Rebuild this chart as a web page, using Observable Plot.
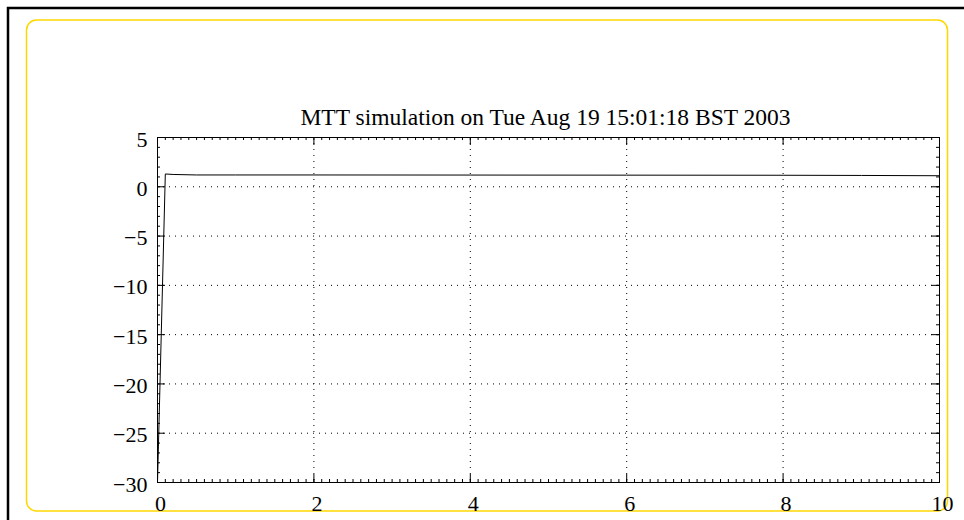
<!DOCTYPE html>
<html><head><meta charset="utf-8">
<script src="https://cdn.jsdelivr.net/npm/d3@7"></script>
<script src="https://cdn.jsdelivr.net/npm/@observablehq/plot@0.6"></script>
<style>body{margin:0;background:#fff} #chart svg{display:block}</style>
</head><body><div id="chart"></div>
<script>
const chartTitle = "MTT simulation on Tue Aug 19 15:01:18 BST 2003";
const timeValues   = [0,   0.1, 0.2,  0.5, 1,   2,   4,    6,    8,    9,    10];
const outputValues = [-30, 1.3, 1.25, 1.2, 1.2, 1.2, 1.19, 1.18, 1.17, 1.15, 1.12];
const xTicks = [0, 2, 4, 6, 8, 10];
const yTicks = [5, 0, -5, -10, -15, -20, -25, -30];
const xMinorStep = 0.1;
const yMinorStep = 1;

const data = timeValues.map((t, i) => ({t, v: outputValues[i]}));
const xMinor = d3.range(0, 100 + 1).map(i => i * xMinorStep);
const yMinor = d3.range(0, 35 + 1).map(i => -30 + i * yMinorStep);

const W = 964, H = 520;
const mL = 157, mR = 25, mT = 137, mB = 38;
const iW = W - mL - mR, iH = H - mT - mB;
const major = 8, minor = 3;

function decor() {
  return () => {
    const g = d3.create("svg:g");
    g.append("rect").attr("x", 26.5).attr("y", 20).attr("width", 921).attr("height", 491)
      .attr("rx", 10).attr("fill", "none").attr("stroke", "#FFD700").attr("stroke-width", 1.5);
    g.append("path").attr("d", "M8,520V8H964").attr("fill", "none")
      .attr("stroke", "#000").attr("stroke-width", 2.5);
    return g.node();
  };
}

const tickStyle = {stroke: "black", strokeWidth: 1};
const chart = Plot.plot({
  width: W, height: H,
  marginLeft: mL, marginRight: mR, marginTop: mT, marginBottom: mB,
  style: {fontFamily: "'Liberation Serif', 'Times New Roman', serif", fontSize: "22px", color: "black", background: "white"},
  x: {domain: [0, 10]},
  y: {domain: [-30, 5]},
  marks: [
    decor(),
    Plot.gridX(xTicks.slice(1, -1), {stroke: "black", strokeOpacity: 1, strokeDasharray: "1,5"}),
    Plot.gridY(yTicks.slice(1, -1), {stroke: "black", strokeOpacity: 1, strokeDasharray: "1,5"}),
    Plot.tickX(xMinor, {x: d => d, insetTop: iH - minor, ...tickStyle}),
    Plot.tickX(xMinor, {x: d => d, insetBottom: iH - minor, ...tickStyle}),
    Plot.tickY(yMinor, {y: d => d, insetRight: iW - minor, ...tickStyle}),
    Plot.tickY(yMinor, {y: d => d, insetLeft: iW - minor, ...tickStyle}),
    Plot.tickX(xTicks, {x: d => d, insetTop: iH - major, ...tickStyle}),
    Plot.tickX(xTicks, {x: d => d, insetBottom: iH - major, ...tickStyle}),
    Plot.tickY(yTicks, {y: d => d, insetRight: iW - major, ...tickStyle}),
    Plot.tickY(yTicks, {y: d => d, insetLeft: iW - major, ...tickStyle}),
    Plot.frame({stroke: "black"}),
    Plot.axisX(xTicks, {tickSize: 0, tickPadding: 13, dx: 3, label: null, fill: "black", fontSize: 22}),
    Plot.axisY(yTicks, {tickSize: 0, tickPadding: 10, dy: 2, label: null, fill: "black", fontSize: 22}),
    Plot.line(data, {x: "t", y: "v", stroke: "black", strokeWidth: 1}),
    Plot.text([chartTitle], {frameAnchor: "top", dx: -3, dy: -13, lineAnchor: "bottom", text: d => d, fill: "black", fontSize: 23.5})
  ]
});
document.getElementById("chart").appendChild(chart);
</script>
</body></html>
